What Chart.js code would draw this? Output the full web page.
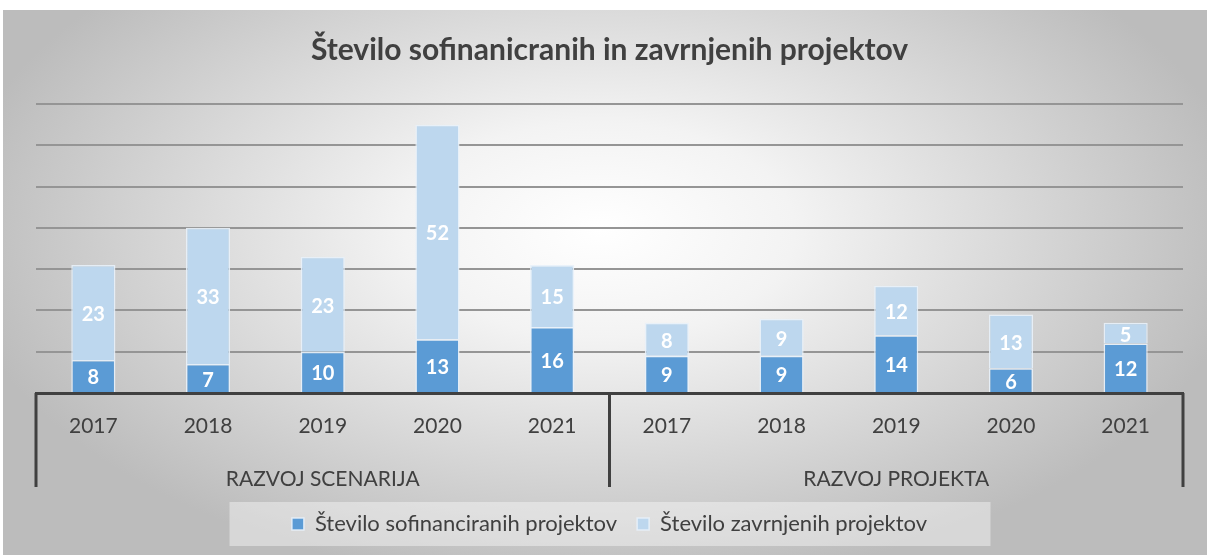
<!DOCTYPE html>
<html>
<head>
<meta charset="utf-8">
<script src="https://cdn.jsdelivr.net/npm/chart.js@4/dist/chart.umd.min.js"></script>
<style>
  html, body { margin: 0; padding: 0; background: #fff; }
  #wrap { width: 1210px; height: 555px; }
</style>
</head>
<body>
<div id="wrap"><canvas id="chart" width="1210" height="555"></canvas></div>
<script>
// podatki
const years = ['2017', '2018', '2019', '2020', '2021', '2017', '2018', '2019', '2020', '2021'];
const groups = ['RAZVOJ SCENARIJA', 'RAZVOJ PROJEKTA'];
const groupSize = 5;
const sofinancirani = [8, 7, 10, 13, 16, 9, 9, 14, 6, 12];
const zavrnjeni = [23, 33, 23, 52, 15, 8, 9, 12, 13, 5];
const seriesNames = ['Število sofinanciranih projektov', 'Število zavrnjenih projektov'];
const chartTitle = 'Število sofinanicranih in zavrnjenih projektov';
const yMax = 70;
const yStep = 10;

// labele skupin na drugi osi (na sredini vsake skupine)
const groupLabels = years.map((y, i) => (i % groupSize === Math.floor(groupSize / 2) ? groups[Math.floor(i / groupSize)] : ''));

Chart.defaults.font.family = 'Lato';

const background = {
  id: 'background',
  beforeDraw(chart) {
    const ctx = chart.ctx;
    ctx.save();
    ctx.fillStyle = '#fff';
    ctx.fillRect(0, 0, chart.width, chart.height);
    // radialni preliv ozadja
    ctx.beginPath();
    ctx.rect(3, 10, 1204, 545);
    ctx.clip();
    ctx.translate(600, 230);
    ctx.scale(1, 0.55);
    const g = ctx.createRadialGradient(0, 0, 0, 0, 0, 650);
    g.addColorStop(0, '#ffffff');
    g.addColorStop(0.3, '#f3f3f3');
    g.addColorStop(1, '#bcbcbc');
    ctx.fillStyle = g;
    ctx.fillRect(-700, -800, 1400, 1600);
    ctx.restore();

    // ozadje legende (na sredini pod grafom)
    const boxes = chart.legend.legendHitBoxes;
    if (boxes && boxes.length) {
      const mid = (Math.min(...boxes.map(b => b.left)) + Math.max(...boxes.map(b => b.left + b.width))) / 2;
      ctx.save();
      ctx.fillStyle = 'rgba(255,255,255,0.4)';
      ctx.fillRect(mid - 380, 502, 761, 44);
      ctx.restore();
    }
  }
};

const extras = {
  id: 'extras',
  afterDatasetsDraw(chart) {
    const ctx = chart.ctx;
    ctx.save();
    ctx.fillStyle = '#fff';
    ctx.font = 'bold 20px Lato';
    ctx.textAlign = 'center';
    ctx.textBaseline = 'middle';
    chart.data.datasets.forEach((ds, i) => {
      chart.getDatasetMeta(i).data.forEach((bar, j) => {
        const { x, y, base } = bar.getProps(['x', 'y', 'base'], true);
        ctx.fillText(ds.data[j], x, (y + base) / 2 + 2);
      });
    });
    ctx.restore();
  },
  afterDraw(chart) {
    // navpične ločnice kategorij
    const ctx = chart.ctx;
    const xs = chart.scales.x;
    const top = xs.top;
    const bottom = 487;
    const lines = [chart.chartArea.left];
    for (let i = groupSize; i < years.length; i += groupSize) {
      lines.push((xs.getPixelForValue(i - 1) + xs.getPixelForValue(i)) / 2);
    }
    lines.push(chart.chartArea.right);
    ctx.save();
    ctx.strokeStyle = '#404040';
    ctx.lineWidth = 3;
    lines.forEach(x => {
      ctx.beginPath();
      ctx.moveTo(x, top);
      ctx.lineTo(x, bottom);
      ctx.stroke();
    });
    ctx.restore();
  }
};

new Chart(document.getElementById('chart'), {
  type: 'bar',
  data: {
    labels: years,
    datasets: [
      {
        label: seriesNames[0],
        data: sofinancirani,
        backgroundColor: '#5b9bd5',
        borderColor: 'rgba(232,241,250,0.9)',
        borderWidth: 1.5,
        categoryPercentage: 1,
        barPercentage: 0.385,
      },
      {
        label: seriesNames[1],
        data: zavrnjeni,
        backgroundColor: '#bdd7ee',
        borderColor: 'rgba(232,241,250,0.9)',
        borderWidth: 1.5,
        categoryPercentage: 1,
        barPercentage: 0.385,
      },
    ],
  },
  options: {
    responsive: false,
    animation: false,
    layout: { padding: { left: 36, right: 27, top: 10, bottom: 10 } },
    plugins: {
      title: {
        display: true,
        text: chartTitle,
        color: '#404040',
        font: { size: 30, weight: 'bold' },
        padding: { top: 22, bottom: 36 },
      },
      legend: {
        position: 'bottom',
        labels: {
          color: '#404040',
          font: { size: 22 },
          boxWidth: 12,
          boxHeight: 12,
          padding: 20,
        },
      },
      tooltip: { enabled: false },
    },
    scales: {
      x: {
        stacked: true,
        weight: 0,
        grid: { display: false },
        border: { display: true, color: '#404040', width: 3 },
        ticks: { color: '#404040', font: { size: 21 }, padding: 13, autoSkip: false, maxRotation: 0 },
        afterFit(s) { s.height = 60; },
      },
      x2: {
        type: 'category',
        position: 'bottom',
        labels: groupLabels,
        weight: 1,
        grid: { display: false },
        border: { display: false },
        ticks: { color: '#404040', font: { size: 21 }, padding: 6, autoSkip: false, maxRotation: 0 },
        afterFit(s) { s.height = 40; },
      },
      y: {
        stacked: true,
        min: 0,
        max: yMax,
        ticks: { display: false, stepSize: yStep },
        grid: { color: '#959595', lineWidth: 2, drawTicks: false },
        border: { display: false },
        afterFit(s) { s.width = 0; },
      },
    },
  },
  plugins: [background, extras],
});
</script>
</body>
</html>
